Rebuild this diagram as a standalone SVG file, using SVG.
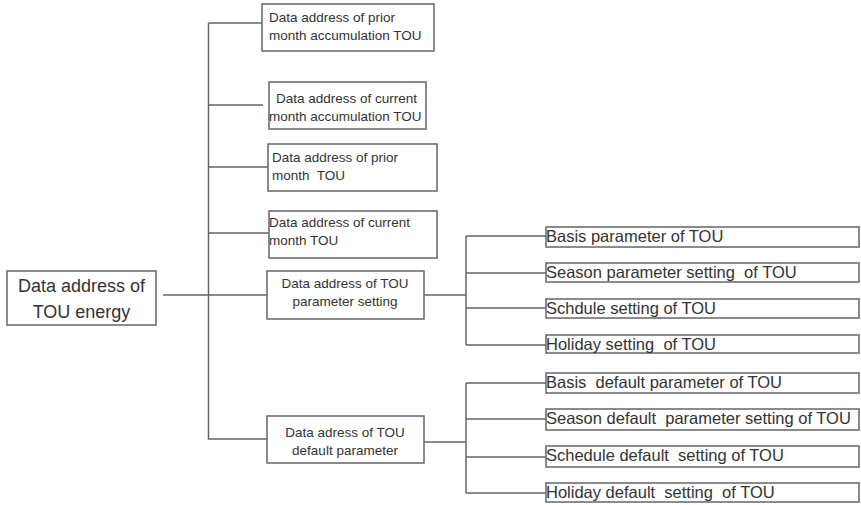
<svg xmlns="http://www.w3.org/2000/svg" width="861" height="505" viewBox="0 0 861 505">
<style>
.box{fill:#fff;stroke:#666;stroke-width:1.5}
.ln{fill:none;stroke:#666;stroke-width:1.5}
text{font-family:"Liberation Sans",Arial,sans-serif;fill:#333;white-space:pre}
.s{font-size:13.5px}
.m{font-size:16.5px}
.l{font-size:18px}
</style>
<rect width="861" height="505" fill="#fff"/>
<g id="connectors">
<path class="ln" d="M163 295H267M208.5 23V439H267M208.5 23H262M208.5 105H263M208.5 167H268M208.5 233H269"/>
<path class="ln" d="M424 295H466M466 236V345M466 236H546M466 273H546M466 308H546M466 345H546"/>
<path class="ln" d="M424 442H466M466 383V493M466 383H546M466 419H546M466 457H546M466 493H546"/>
</g>
<g id="root"><rect class="box" x="7" y="271" width="149" height="54"/>
<text class="l" x="81.5" y="292" text-anchor="middle">Data address of</text>
<text class="l" x="81.5" y="318" text-anchor="middle">TOU energy</text></g>
<g id="n1"><rect class="box" x="262" y="4" width="172" height="47"/>
<text class="s" x="269" y="22">Data address of prior</text>
<text class="s" x="269" y="40">month accumulation TOU</text></g>
<g id="n2"><rect class="box" x="269" y="82" width="157" height="47"/>
<text class="s" x="276" y="103">Data address of current</text>
<text class="s" x="269" y="121">month accumulation TOU</text></g>
<g id="n3"><rect class="box" x="268" y="144" width="169" height="47"/>
<text class="s" x="272" y="162">Data address of prior</text>
<text class="s" x="272" y="180">month  TOU</text></g>
<g id="n4"><rect class="box" x="269" y="211" width="168" height="47"/>
<text class="s" x="269" y="227">Data address of current</text>
<text class="s" x="269" y="245">month TOU</text></g>
<g id="n5"><rect class="box" x="267" y="271" width="157" height="48"/>
<text class="s" x="345" y="288" text-anchor="middle">Data address of TOU</text>
<text class="s" x="345" y="306" text-anchor="middle">parameter setting</text></g>
<g id="n6"><rect class="box" x="267" y="416" width="157" height="47"/>
<text class="s" x="345" y="437" text-anchor="middle">Data adress of TOU</text>
<text class="s" x="345" y="455" text-anchor="middle">default parameter</text></g>
<g id="a1"><rect class="box" x="546" y="227" width="313" height="20"/><text class="m" x="546" y="242">Basis parameter of TOU</text></g>
<g id="a2"><rect class="box" x="546" y="263" width="313" height="19"/><text class="m" x="546" y="278">Season parameter setting  of TOU</text></g>
<g id="a3"><rect class="box" x="546" y="299" width="313" height="19"/><text class="m" x="546" y="314">Schdule setting of TOU</text></g>
<g id="a4"><rect class="box" x="546" y="335" width="313" height="18"/><text class="m" x="546" y="350">Holiday setting  of TOU</text></g>
<g id="b1"><rect class="box" x="546" y="373" width="313" height="20"/><text class="m" x="546" y="388">Basis  default parameter of TOU</text></g>
<g id="b2"><rect class="box" x="546" y="409" width="313" height="21"/><text class="m" x="546" y="424">Season default  parameter setting of TOU</text></g>
<g id="b3"><rect class="box" x="546" y="446" width="313" height="21"/><text class="m" x="546" y="461">Schedule default  setting of TOU</text></g>
<g id="b4"><rect class="box" x="546" y="483" width="313" height="19"/><text class="m" x="546" y="498">Holiday default  setting  of TOU</text></g>
</svg>
